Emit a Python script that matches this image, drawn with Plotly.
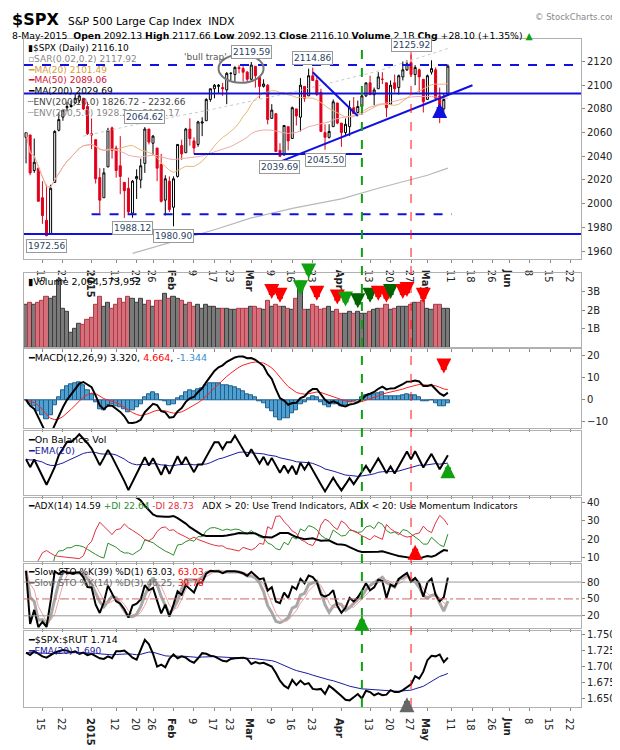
import pandas as pd
import numpy as np
import plotly.graph_objects as go

# trading days Dec 9 2014 - May 8 2015
holidays = ['2014-12-25', '2015-01-01', '2015-01-19', '2015-02-16', '2015-04-03', '2015-05-25']
all_days = [d for d in pd.bdate_range('2014-12-09', '2015-06-26') if d.strftime('%Y-%m-%d') not in holidays]

opens = [2056, 2058, 2028, 2030, 2005, 1986, 1974, 2018, 2062, 2073, 2081, 2083, 2085, 2087, 2089, 2082,
         2059, 2054, 2022, 2005, 2031, 2064, 2047, 2032, 2018, 2013, 1992, 2021, 2020, 2034, 2063, 2051, 2047, 2033, 2003, 2019,
         1997, 2023, 2049, 2043, 2063, 2053, 2050, 2068, 2070, 2088, 2097, 2099, 2098, 2096, 2110, 2109, 2115, 2114, 2111,
         2105, 2116, 2107, 2099, 2100, 2072, 2076, 2045, 2041, 2065, 2055, 2080, 2073, 2099, 2091, 2108, 2104, 2094, 2060, 2056, 2065, 2085,
         2068, 2060, 2065, 2081, 2077, 2082, 2091, 2102, 2092, 2097, 2105, 2102, 2084, 2102, 2098, 2107, 2113, 2119, 2109, 2113, 2105,
         2088, 2111, 2113, 2091, 2080, 2092.13]
highs = [2060, 2058, 2055, 2030, 2019, 2016, 2016, 2062, 2077, 2079, 2086, 2087, 2093, 2094, 2089, 2086,
         2072, 2054, 2030, 2030, 2064, 2065, 2049, 2057, 2018, 2022, 2020, 2029, 2038, 2064.62, 2063, 2058, 2047, 2042, 2024, 2023,
         2023, 2050, 2054, 2064, 2072, 2056, 2070, 2073, 2089, 2097, 2101, 2101, 2102, 2111, 2111, 2116, 2117, 2116, 2112,
         2119.59, 2116, 2107, 2105, 2101, 2084, 2076, 2051, 2066, 2065, 2082, 2080, 2106, 2099, 2114, 2114.86, 2107, 2097, 2067, 2067, 2088, 2085,
         2068, 2072, 2087, 2090, 2087, 2092, 2102, 2108, 2098, 2111, 2111, 2102, 2104, 2109, 2109, 2120, 2121, 2125.92, 2117, 2114, 2105,
         2109, 2121, 2115, 2098, 2093, 2117.66]
lows = [2034, 2024, 2026, 2002, 1983, 1972.56, 1974, 2018, 2061, 2070, 2078, 2081, 2084, 2085, 2079, 2058,
        2046, 2017, 1992, 2005, 2031, 2038, 2022, 2008, 1988, 1991, 1988.12, 2004, 2013, 2026, 2050, 2041, 2019, 2001, 1990, 1993,
        1980.90, 2022, 2037, 2043, 2049, 2042, 2048, 2057, 2070, 2086, 2089, 2093, 2091, 2084, 2104, 2103, 2110, 2103, 2103,
        2104, 2098, 2089, 2098, 2067, 2072, 2044, 2039.69, 2041, 2045, 2055, 2066, 2061, 2086, 2091, 2104, 2091, 2061, 2045.5, 2055, 2065, 2067,
        2048, 2057, 2057, 2076, 2076, 2075, 2090, 2092, 2083, 2097, 2101, 2073, 2084, 2094, 2092, 2104, 2112, 2107, 2100, 2094, 2077,
        2088, 2109, 2088, 2068, 2076, 2092.13]
closes = [2060, 2026, 2035, 2002, 1990, 1973, 2013, 2061, 2071, 2079, 2082, 2082, 2089, 2091, 2080, 2059,
          2058, 2021, 2003, 2026, 2062, 2045, 2028, 2023, 2011, 1993, 2019, 2023, 2032, 2063, 2052, 2057, 2030, 2002, 2021, 1995,
          2021, 2050, 2042, 2063, 2055, 2047, 2069, 2069, 2088, 2097, 2100, 2100, 2097, 2110, 2110, 2115, 2114, 2111, 2105,
          2117, 2108, 2099, 2101, 2071, 2079, 2044, 2040, 2066, 2053, 2081, 2074, 2100, 2089, 2108, 2104, 2092, 2061, 2056, 2061, 2086, 2068,
          2060, 2067, 2081, 2076, 2082, 2091, 2102, 2092, 2096, 2107, 2105, 2081, 2100, 2097, 2108, 2113, 2118, 2109, 2115, 2107, 2086,
          2108, 2114, 2089, 2080, 2088, 2116.10]
volume_b = [2.3, 2.4, 2.3, 2.4, 2.5, 2.7, 2.6, 2.7, 3.6, 2.1, 1.9, 0.8, 1.0, 1.3, 1.2, 1.5,
            1.6, 2.3, 2.7, 2.2, 2.4, 2.1, 2.3, 2.6, 2.4, 2.7, 2.6, 2.4, 2.6, 2.3, 2.5, 2.2, 2.5, 2.5, 2.9, 2.6,
            2.7, 2.6, 2.5, 2.3, 2.4, 2.2, 2.3, 2.1, 2.3, 2.2, 2.2, 2.1, 2.1, 2.1, 2.0, 2.0, 2.1, 2.1, 2.1,
            2.2, 2.2, 2.1, 2.0, 2.5, 2.2, 2.3, 2.2, 2.2, 2.1, 2.0, 2.6, 3.5, 2.0, 2.0, 2.3, 2.2, 2.0, 2.1, 2.2, 1.9, 2.0,
            1.8, 1.8, 1.9, 1.8, 1.9, 1.8, 1.8, 1.9, 2.0, 2.1, 2.1, 2.3, 2.0, 2.1, 2.2, 2.2, 2.2, 2.3, 2.4, 2.4, 2.5,
            2.1, 2.0, 2.3, 2.3, 2.1, 2.06]
spx_rut = [1.722, 1.718, 1.724, 1.720, 1.716, 1.714, 1.718, 1.722, 1.724, 1.726, 1.725, 1.722, 1.724, 1.720, 1.722, 1.718,
           1.720, 1.716, 1.713, 1.712, 1.716, 1.713, 1.724, 1.724, 1.725, 1.720, 1.714, 1.711, 1.726, 1.742, 1.735, 1.720, 1.700, 1.703, 1.699, 1.712,
           1.719, 1.713, 1.716, 1.714, 1.709, 1.706, 1.713, 1.721, 1.720, 1.717, 1.716, 1.712, 1.709, 1.708, 1.712, 1.713, 1.714, 1.714, 1.712,
           1.704, 1.707, 1.705, 1.706, 1.703, 1.700, 1.690, 1.678, 1.670, 1.666, 1.679, 1.671, 1.678, 1.672, 1.674, 1.665, 1.664, 1.665, 1.657, 1.670, 1.665, 1.660,
           1.654, 1.648, 1.647, 1.652, 1.657, 1.650, 1.662, 1.660, 1.655, 1.658, 1.655, 1.656, 1.663, 1.660, 1.660, 1.663, 1.667, 1.672, 1.685, 1.681, 1.692,
           1.710, 1.717, 1.716, 1.719, 1.707, 1.714]
# sparse readings of the 200-day MA and its 5% upper envelope
ma200_dates = ['2015-01-16', '2015-02-02', '2015-02-17', '2015-03-02', '2015-03-16', '2015-04-01', '2015-04-15', '2015-05-01', '2015-05-08']
ma200_vals = [1958, 1968, 1978, 1988, 1996, 2004, 2013, 2024, 2030]
env5_dates = ['2014-12-30', '2015-01-20', '2015-02-17', '2015-03-16', '2015-04-15', '2015-05-08']
env5_vals = [2057, 2067, 2080, 2094, 2112, 2131]

n = len(closes)
ix = {d.strftime('%Y-%m-%d'): i for i, d in enumerate(all_days)}
x = np.arange(n)
df = pd.DataFrame({'o': opens, 'h': highs, 'l': lows, 'c': closes, 'v': volume_b})
pc = df.c.shift(1).fillna(df.o)

# indicators
ma20 = df.c.rolling(20, min_periods=1).mean()
ma50 = df.c.rolling(50, min_periods=1).mean()
ema12 = df.c.ewm(span=12, adjust=False).mean()
ema26 = df.c.ewm(span=26, adjust=False).mean()
macd = ema12 - ema26
sig = macd.ewm(span=9, adjust=False).mean()
hist = macd - sig
obv = (np.sign(df.c - pc) * df.v).cumsum()
obv_ema = obv.ewm(span=20, adjust=False).mean()
tr = pd.concat([df.h - df.l, (df.h - pc).abs(), (df.l - pc).abs()], axis=1).max(axis=1)
up = df.h - df.h.shift(1)
dn = df.l.shift(1) - df.l
pdm = np.where((up > dn) & (up > 0), up, 0.0)
mdm = np.where((dn > up) & (dn > 0), dn, 0.0)
atr = tr.ewm(alpha=1/14, adjust=False).mean()
pdi = 100 * pd.Series(pdm).ewm(alpha=1/14, adjust=False).mean() / atr
mdi = 100 * pd.Series(mdm).ewm(alpha=1/14, adjust=False).mean() / atr
dx = 100 * (pdi - mdi).abs() / (pdi + mdi)
adx = dx.ewm(alpha=1/14, adjust=False).mean()
k39 = 100 * (df.c - df.l.rolling(39, min_periods=1).min()) / (df.h.rolling(39, min_periods=1).max() - df.l.rolling(39, min_periods=1).min())
fk14 = 100 * (df.c - df.l.rolling(14, min_periods=1).min()) / (df.h.rolling(14, min_periods=1).max() - df.l.rolling(14, min_periods=1).min())
sk14 = fk14.rolling(3, min_periods=1).mean()
sd3 = sk14.rolling(3, min_periods=1).mean()
ratio = pd.Series(spx_rut)
ratio_ema = ratio.ewm(span=20, adjust=False).mean()

fig = go.Figure()
F = 'DejaVu Sans'
RED = '#e0001b'
GRID = '#b0b0b0'

# candles: hollow when close>open, red when close<prev close
for hollow in (True, False):
    for redc in (True, False):
        m = ((df.c >= df.o) == hollow) & ((df.c < pc) == redc)
        col = RED if redc else 'black'
        fill = 'white' if hollow else col
        st = dict(line=dict(color=col, width=1), fillcolor=fill)
        fig.add_trace(go.Candlestick(x=x[m], open=df.o[m], high=df.h[m], low=df.l[m], close=df.c[m],
                                     increasing=st, decreasing=st, whiskerwidth=0, showlegend=False,
                                     xaxis='x', yaxis='y'))
fig.add_trace(go.Scatter(x=x, y=ma20, line=dict(color='#e8b870', width=1), xaxis='x', yaxis='y'))
fig.add_trace(go.Scatter(x=x, y=ma50, line=dict(color='#f0a8a8', width=1), xaxis='x', yaxis='y'))
fig.add_trace(go.Scatter(x=[ix[d] for d in ma200_dates], y=ma200_vals, line=dict(color='#b8b8b8', width=1.2), xaxis='x', yaxis='y'))
fig.add_trace(go.Scatter(x=[ix[d] for d in env5_dates], y=env5_vals, line=dict(color='#c8c8c8', width=1, dash='dot'), xaxis='x', yaxis='y'))

vcol = np.where(df.c < pc, '#d4707a', '#7a7a7a')
vline = np.where(df.c < pc, '#b03848', '#3c3c3c')
fig.add_trace(go.Bar(x=x, y=df.v, marker=dict(color=vcol, line=dict(color=vline, width=1)), width=1.0, xaxis='x2', yaxis='y2'))

fig.add_trace(go.Bar(x=x, y=hist, marker=dict(color='#4f9fcf', line=dict(color='#1f5f8f', width=1)), width=1.0, xaxis='x3', yaxis='y3'))
fig.add_trace(go.Scatter(x=x, y=sig, line=dict(color='#ff2020', width=1), xaxis='x3', yaxis='y3'))
fig.add_trace(go.Scatter(x=x, y=macd, line=dict(color='black', width=2), xaxis='x3', yaxis='y3'))

fig.add_trace(go.Scatter(x=x, y=obv_ema, line=dict(color='#1a1aa0', width=1), xaxis='x4', yaxis='y4'))
fig.add_trace(go.Scatter(x=x, y=obv, line=dict(color='black', width=2), xaxis='x4', yaxis='y4'))

fig.add_trace(go.Scatter(x=x, y=pdi, line=dict(color='#2e8b2e', width=1), xaxis='x5', yaxis='y5'))
fig.add_trace(go.Scatter(x=x, y=mdi, line=dict(color='#e03040', width=1), xaxis='x5', yaxis='y5'))
fig.add_trace(go.Scatter(x=x, y=adx, line=dict(color='black', width=2), xaxis='x5', yaxis='y5'))

fig.add_trace(go.Scatter(x=x, y=sk14, line=dict(color='#a8a8a8', width=3), xaxis='x6', yaxis='y6'))
fig.add_trace(go.Scatter(x=x, y=sd3, line=dict(color='#f0a0a0', width=1), xaxis='x6', yaxis='y6'))
fig.add_trace(go.Scatter(x=x, y=k39, line=dict(color='black', width=2), xaxis='x6', yaxis='y6'))

fig.add_trace(go.Scatter(x=x, y=ratio_ema, line=dict(color='#1a1aa0', width=1), xaxis='x7', yaxis='y7'))
fig.add_trace(go.Scatter(x=x, y=ratio, line=dict(color='black', width=2), xaxis='x7', yaxis='y7'))
fig.update_traces(selector=dict(type='scatter'), mode='lines', showlegend=False, hoverinfo='skip')
fig.update_traces(selector=dict(type='bar'), showlegend=False)

# axes
tick_days = ['2014-12-15', '2014-12-22', '2015-01-02', '2015-01-12', '2015-01-20', '2015-01-26', '2015-02-02', '2015-02-09',
             '2015-02-17', '2015-02-23', '2015-03-02', '2015-03-09', '2015-03-16', '2015-03-23', '2015-04-01', '2015-04-13',
             '2015-04-20', '2015-04-27', '2015-05-01', '2015-05-11', '2015-05-18', '2015-05-26', '2015-06-01', '2015-06-08',
             '2015-06-15', '2015-06-22']
tick_text = ['15', '22', '<b>2015</b>', '12', '20', '26', '<b>Feb</b>', '9', '17', '23', '<b>Mar</b>', '9', '16', '23', '<b>Apr</b>',
             '13', '20', '27', '<b>May</b>', '11', '18', '26', '<b>Jun</b>', '8', '15', '22']
xr = [-0.5, ix['2015-06-24'] + 0.5]
domains = [(0.671, 1.0), (0.538, 0.650), (0.417, 0.537), (0.318, 0.413), (0.218, 0.313), (0.118, 0.214), (0.0, 0.114)]
yranges = [(1953.5, 2139), (0, 4.0), (-13, 23.5), None, (7.9, 42.6), (-2, 112), (1.6366, 1.756)]
yticks = [([1960, 1980, 2000, 2020, 2040, 2060, 2080, 2100, 2120], None), ([1, 2, 3], ['1B', '2B', '3B']),
          ([-10, 0, 10, 20], None), ([], None), ([10, 20, 30, 40], None), ([20, 50, 80], None),
          ([1.65, 1.675, 1.7, 1.725, 1.75], ['1.650', '1.675', '1.700', '1.725', '1.750'])]
lay = {}
for i in range(7):
    s = '' if i == 0 else str(i + 1)
    show = i in (0, 6)
    lay['xaxis' + s] = dict(domain=[0, 1], range=xr, anchor='y' + s, showgrid=False, zeroline=False,
                            showline=True, mirror=True, linecolor=GRID, tickmode='array',
                            tickvals=[ix[d] for d in tick_days], ticktext=tick_text if show else None,
                            showticklabels=show, ticks='outside', ticklen=3, tickcolor='#888',
                            tickfont=dict(size=10, color='#222'), rangeslider=dict(visible=False))
    ya = dict(domain=list(domains[i]), anchor='x' + s, side='right', showgrid=False, zeroline=False,
              showline=True, mirror=True, linecolor=GRID, tickvals=yticks[i][0], ticks='outside', ticklen=3,
              tickcolor='#888', tickfont=dict(size=10, color='#222'))
    if yticks[i][1]:
        ya['ticktext'] = yticks[i][1]
    if yranges[i]:
        ya['range'] = list(yranges[i])
    lay['yaxis' + s] = ya
fig.update_layout(**lay)

shapes = []
def hline(y0, d0, d1, color, dash, w=2, yref='y'):
    shapes.append(dict(type='line', xref='x', yref=yref, x0=d0, x1=d1, y0=y0, y1=y0,
                       line=dict(color=color, dash=dash, width=w)))
hline(2117, xr[0], xr[1], '#1010e0', 'dash')
hline(2093, xr[0], xr[1], '#1010e0', 'solid')
hline(1974.5, xr[0], xr[1], '#1010e0', 'solid')
hline(1991, ix['2015-01-02'], ix['2015-05-11'], '#1010e0', 'dash')
hline(2042, ix['2015-02-09'], ix['2015-04-09'], '#1010e0', 'solid')
shapes.append(dict(type='line', xref='x', yref='y', x0=ix['2015-03-10'], y0=2034, x1=ix['2015-05-18'], y1=2100,
                   line=dict(color='#1010e0', width=2)))
shapes.append(dict(type='line', xref='x', yref='y', x0=ix['2015-03-23'], y0=2111, x1=ix['2015-04-08'], y1=2074,
                   line=dict(color='#1010e0', width=2)))
shapes.append(dict(type='circle', xref='x', yref='y', x0=ix['2015-02-18'], x1=ix['2015-03-05'], y0=2102, y1=2126,
                   line=dict(color='#777', width=2)))
for d, c, w in (('2015-04-09', '#10a010', 2), ('2015-04-27', '#ff1010', 1)):
    shapes.append(dict(type='line', xref='x', yref='paper', x0=ix[d], x1=ix[d], y0=0, y1=0.99,
                       line=dict(color=c, dash='dash', width=w)))
for lv, c in ((80, '#999'), (50, '#cc6666'), (20, '#999')):
    hline(lv, xr[0], xr[1], c, 'solid' if lv != 50 else 'dashdot', 1, 'y6')
fig.update_layout(shapes=shapes)

ann = []
def txt(xp, yp, t, size=9.5, color='black', xref='paper', yref='paper', **kw):
    ann.append(dict(x=xp, y=yp, xref=xref, yref=yref, text=t, showarrow=False, xanchor='left', yanchor='top',
                    font=dict(size=size, color=color, family=F), **kw))
txt(-0.025, 1.047, '<b>$SPX</b>', size=16)
txt(0.075, 1.039, 'S&P 500 Large Cap Index  INDX', size=10.5)
txt(-0.025, 1.016, '8-May-2015  <b>Open</b> 2092.13 <b>High</b> 2117.66 <b>Low</b> 2092.13 <b>Close</b> 2116.10 <b>Volume</b> 2.1B <b>Chg</b> +28.10 (+1.35%) <span style="color:#10a010">▲</span>', size=9.3)
ann.append(dict(x=1.07, y=1.044, xref='paper', yref='paper', text='© StockCharts.com', showarrow=False,
                xanchor='right', yanchor='top', font=dict(size=8.5, color='#888', family=F)))
price_leg = [('▮$SPX (Daily) 2116.10', 'black'), ('▫SAR(0.02,0.2) 2117.92', '#888'), ('━MA(20) 2101.49', '#d4a040'),
             ('━MA(50) 2089.06', '#d0103a'), ('━MA(200) 2029.69', 'black'), ('┄ENV(200,10.0) 1826.72 - 2232.66', '#444'),
             ('┄ENV(200,5.0) 1928.20 - 2131.17', '#888')]
for k, (t, c) in enumerate(price_leg):
    txt(0.003, 0.997 - k * 0.0162, t, size=9, color=c)
txt(0.003, 0.648, '▮Volume 2,064,573,952')
txt(0.003, 0.535, '━MACD(12,26,9) 3.320, <span style="color:red">4.664</span>, <span style="color:#3a8fd0">-1.344</span>')
txt(0.003, 0.411, '━On Balance Vol')
txt(0.003, 0.395, '━EMA(20)', color='#1a1aa0')
txt(0.003, 0.311, '━ADX(14) 14.59 <span style="color:#2e8b2e">+DI 22.64</span> <span style="color:#e03040">-DI 28.73</span>   ADX > 20: Use Trend Indicators, ADX < 20: Use Momentum Indicators', size=9)
txt(0.003, 0.212, '━Slow STO %K(39) %D(1) 63.03, <span style="color:red">63.03</span>', size=9)
txt(0.003, 0.196, '━Slow STO %K(14) %D(3) 46.25, <span style="color:red">39.78</span>', color='#666', size=9)
txt(0.003, 0.112, '━$SPX:$RUT 1.714')
txt(0.003, 0.095, '━EMA(20) 1.690', color='#1a1aa0', size=9)
txt(ix['2015-02-04'], 2130, "'bull trap'", xref='x', yref='y', color='#555', size=9)

labels = [('2014-12-16', 1972.56, -1), ('2015-01-16', 1988.12, -1), ('2015-02-02', 1980.90, -1), ('2015-01-22', 2064.62, 1),
          ('2015-03-02', 2119.59, 1), ('2015-03-23', 2114.86, 1), ('2015-04-27', 2125.92, 1), ('2015-03-11', 2039.69, -1),
          ('2015-03-26', 2045.50, -1)]
for d, v, s in labels:
    ann.append(dict(x=ix[d], y=v, xref='x', yref='y', text='%.2f' % v, showarrow=False,
                    yanchor='bottom' if s > 0 else 'top', yshift=3 * s, bordercolor='#999', borderwidth=1,
                    borderpad=1, bgcolor='white', font=dict(size=9, family=F)))

def arrow(d, y, yref, color, down=True, length=16):
    ann.append(dict(x=ix[d], y=y, xref='x', yref=yref, ax=0, ay=-length if down else length, showarrow=True,
                    arrowhead=2, arrowsize=0.5, arrowwidth=6, arrowcolor=color, text=''))
for d, y, c in (('2015-03-09', 2.6, 'red'), ('2015-03-11', 2.4, 'red'), ('2015-03-18', 2.8, '#10a010'),
                ('2015-03-20', 3.7, '#10a010'), ('2015-03-24', 2.5, 'red'), ('2015-03-31', 2.3, 'red'),
                ('2015-04-02', 2.2, '#10a010'), ('2015-04-08', 2.1, '#006400'), ('2015-04-13', 2.4, '#006400'),
                ('2015-04-15', 2.5, 'red'), ('2015-04-17', 2.4, 'red'), ('2015-04-20', 2.6, '#006400'),
                ('2015-04-23', 2.6, 'red'), ('2015-04-24', 2.7, 'red'), ('2015-04-30', 2.4, 'red')):
    arrow(d, y, 'y2', c)
arrow('2015-05-07', 12, 'y3', 'red')
arrow('2015-05-06', 2085, 'y', '#1010e0', down=False)
arrow('2015-04-24', 1.652, 'y7', '#666', down=False)
arrow('2015-04-09', 20, 'y6', '#10a010', down=False)
arrow('2015-04-28', 17, 'y5', 'red', down=False)
ann.append(dict(x=ix['2015-05-08'], y=obv.iloc[-1], xref='x', yref='y4', ax=0, ay=16, yshift=-8, showarrow=True,
                arrowhead=2, arrowsize=0.5, arrowwidth=6, arrowcolor='#10a010', text=''))
fig.update_layout(annotations=ann)

fig.update_layout(width=620, height=750, margin=dict(l=16, r=42, t=31, b=17), plot_bgcolor='white',
                  paper_bgcolor='white', bargap=0, font=dict(family=F, size=10), showlegend=False)
fig.write_html("out.html")
